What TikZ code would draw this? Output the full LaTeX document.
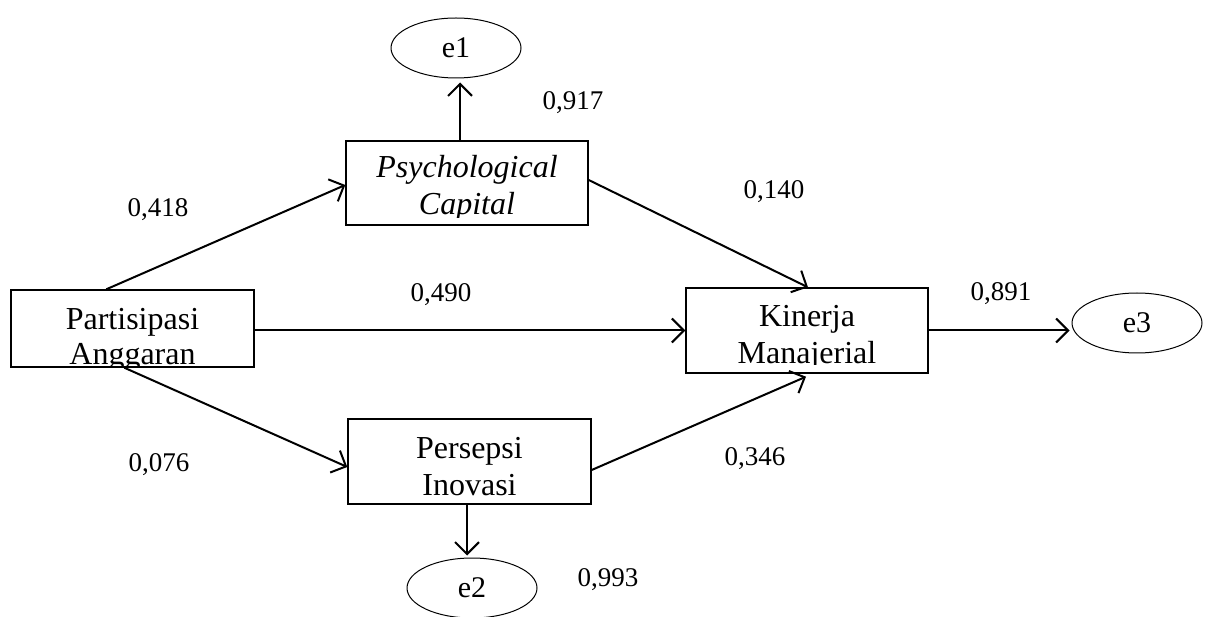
\documentclass[tikz,border=0pt]{standalone}
\usepackage{fontspec}
\setmainfont{Liberation Serif}
\usetikzlibrary{arrows.meta,shapes.geometric,calc}
\begin{document}
\begin{tikzpicture}[x=1pt,y=-1pt,
 box/.style={draw,line width=1.4pt,inner sep=0pt},
 err/.style={draw,ellipse,line width=1pt,minimum width=130pt,minimum height=60pt,inner sep=0pt,font=\fontsize{30}{34}\selectfont},
 btxt/.style={inner sep=0pt,anchor=base,font=\fontsize{32}{36}\selectfont},
 lbl/.style={inner sep=0pt,font=\fontsize{27}{30}\selectfont},
 arr/.style={line width=2pt,-{Straight Barb[length=12pt,width=24pt,line width=2pt]}}]
\useasboundingbox (0,0) rectangle (1207,617);
% boxes
\node[box,minimum width=243pt,minimum height=77pt] (pa) at (132.5,328.5) {};
\node[box,minimum width=242pt,minimum height=84pt] (pc) at (467,183) {};
\node[box,minimum width=242pt,minimum height=85pt] (km) at (807,330.5) {};
\node[box,minimum width=243pt,minimum height=85pt] (pi) at (469.5,461.5) {};
% box texts (clipped as in the reference)
\begin{scope}
\clip (pa.north west) rectangle (pa.east |- 0,366);
\node[btxt] (pat1) at (132.5,330) {Partisipasi};
\node[btxt] (pat2) at (132.5,365) {Anggaran};
\end{scope}
\begin{scope}
\clip (pc.north west) rectangle (pc.east |- 0,218);
\node[btxt,font=\fontsize{32}{36}\selectfont\itshape] (pct1) at (467,178) {Psychological};
\node[btxt,font=\fontsize{32}{36}\selectfont\itshape] (pct2) at (467,215) {Capital};
\end{scope}
\begin{scope}
\clip (km.north west) rectangle (km.east |- 0,365);
\node[btxt] (kmt1) at (807,327) {Kinerja};
\node[btxt] (kmt2) at (807,363) {Manajerial};
\end{scope}
\node[btxt] (pit1) at (469.5,458) {Persepsi};
\node[btxt] (pit2) at (469.5,495) {Inovasi};
% error terms
\node[err] (e1) at (456,48) {e1};
\node[err] (e2) at (472,588) {e2};
\node[err] (e3) at (1137,323) {e3};
% connectors
\draw[arr] ($(pa.north west)+(96,0)$) -- ($(pc.west)+(0,2)$);
\draw[arr] (pa.east |- km.west) -- (km.west);
\draw[arr] ($(pa.south west)+(114,0)$) -- ($(pi.west)+(0,5.5)$);
\draw[arr] ($(pc.east)+(0,-3)$) -- ($(km.north)+(1,0)$);
\draw[arr] ($(pi.east)+(0,8.5)$) -- ($(km.south)+(-1,3)$);
\draw[arr] ($(pc.north)+(-7,0)$) -- ($(e1.south)+(4,4)$);
\draw[arr] ($(pi.south)+(-2.5,0)$) -- ($(e2.north)+(-5,-2)$);
\draw[arr] (km.east) -- ($(km.east -| e3.west)+(-2,0)$);
% coefficients
\node[lbl] (l1) at (573,103) {0,917};
\node[lbl] (l2) at (158,210) {0,418};
\node[lbl] (l3) at (774,192) {0,140};
\node[lbl] (l4) at (441,295) {0,490};
\node[lbl] (l5) at (1001,294) {0,891};
\node[lbl] (l6) at (159,465) {0,076};
\node[lbl] (l7) at (755,459) {0,346};
\node[lbl] (l8) at (608,580) {0,993};
\end{tikzpicture}
\end{document}
